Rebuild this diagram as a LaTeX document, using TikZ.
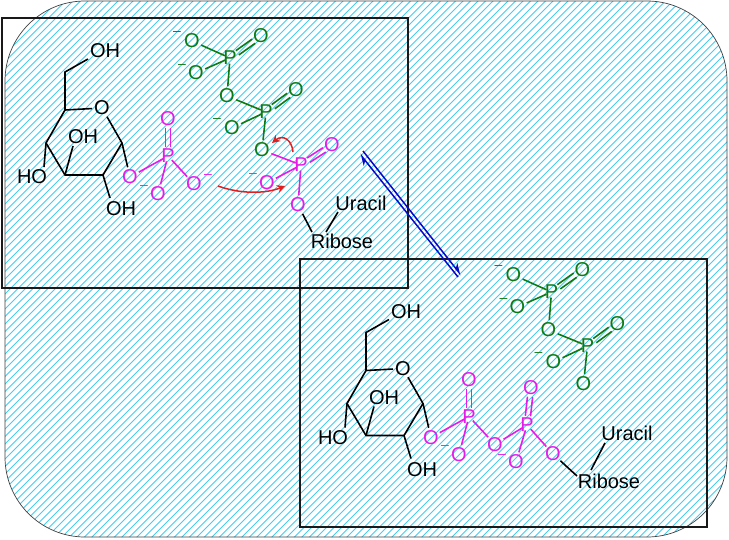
\documentclass[tikz,border=0pt]{standalone}
\usepackage{fontspec}
\setmainfont{Liberation Sans}
\usetikzlibrary{calc,arrows.meta}
\definecolor{hatchc}{HTML}{45CDF0}
\definecolor{grn}{HTML}{0E7A12}
\definecolor{mag}{HTML}{E81AE8}
\definecolor{arrred}{HTML}{E02020}
\definecolor{arrblue}{HTML}{0808C8}
\tikzset{
  atomtext/.style={font=\fontsize{20}{22}\selectfont, inner sep=0pt},
  oxy/.style={atomtext, circle, inner sep=-0.5pt},
  phos/.style={atomtext, circle, inner sep=-3pt},
  lbl/.style={atomtext, inner sep=1pt},
  minussign/.style={font=\fontsize{14}{15}\selectfont, inner sep=0pt},
  bond/.style={line width=1.6pt},
  framebox/.style={draw=black!90, line width=1.8pt},
  curly/.style={draw=arrred, line width=1.5pt, -{Stealth[length=8pt,width=8pt]}},
  eqm/.style={draw=arrblue, line width=1.5pt}
}
\newcommand{\dbl}[3]{%
  \draw[bond,#1,shorten <=9pt,shorten >=9pt] ($(#2)!2.6pt!90:(#3)$) -- ($(#3)!2.6pt!-90:(#2)$);
  \draw[bond,#1,shorten <=9pt,shorten >=9pt] ($(#2)!2.6pt!-90:(#3)$) -- ($(#3)!2.6pt!90:(#2)$);}
% glucose ring with its phosphate
\newcommand{\sugar}{%
  \coordinate (c6) at (65,72);
  \coordinate (c5) at (65,110);
  \coordinate (c1) at (122,143);
  \coordinate (c2) at (103,175);
  \coordinate (c3) at (65,175);
  \coordinate (c4) at (46,143);
  \node[oxy] (ro) at (102,108) {O};
  \node[lbl] (oh6) at (105,51) {OH};
  \node[lbl] (oh3) at (83,137) {OH};
  \node[lbl] (ho4) at (32,177) {HO};
  \node[lbl] (oh2) at (121,209) {OH};
  \coordinate (oh6a) at (88,59);
  \coordinate (oh3a) at (73,146);
  \coordinate (ho4a) at (44,167);
  \coordinate (oh2a) at (110,198);
  \draw[bond] (oh6a) -- (c6) -- (c5) -- (ro) -- (c1) -- (c2) -- (c3) -- (c4) -- (c5);
  \draw[bond] (c3) -- (oh3a);
  \draw[bond] (c4) -- (ho4a);
  \draw[bond] (c2) -- (oh2a);
  \node[oxy,mag] (lo) at (130,177) {O};
  \node[phos,mag] (pa) at (168,156) {P};
  \node[oxy,mag] (pat) at (168,119) {O};
  \node[oxy,mag] (pal) at (158,194) {O};
  \node[oxy,mag] (par) at (194,184) {O};
  \node[minussign,mag] (pam) at (144,187) {–};
  \draw[bond] (c1) -- (lo);
  \draw[bond,mag] (lo) -- (pa);
  \draw[bond,mag] (pa) -- (pal);
  \draw[bond,mag] (pa) -- (par);
  \dbl{mag}{pa}{pat}
}
% green diphosphate
\newcommand{\pyro}{%
  \node[oxy,grn] (g1) at (192,41) {O};
  \node[oxy,grn] (g2) at (261,36) {O};
  \node[oxy,grn] (g3) at (196,73) {O};
  \node[phos,grn] (gp1) at (230,58) {P};
  \node[oxy,grn] (g4) at (227,96) {O};
  \node[phos,grn] (gp2) at (266,112) {P};
  \node[oxy,grn] (g5) at (296,90) {O};
  \node[oxy,grn] (g6) at (232,128) {O};
  \node[oxy,grn] (g7) at (262,150) {O};
  \node[minussign,grn] (gm1) at (177,33) {–};
  \node[minussign,grn] (gm2) at (182,66) {–};
  \node[minussign,grn] (gm3) at (217,120) {–};
  \draw[bond,grn] (g1) -- (gp1);
  \draw[bond,grn] (g3) -- (gp1);
  \draw[bond,grn] (gp1) -- (g4);
  \draw[bond,grn] (g4) -- (gp2);
  \draw[bond,grn] (g6) -- (gp2);
  \draw[bond,grn] (gp2) -- (g7);
  \dbl{grn}{gp1}{g2}
  \dbl{grn}{gp2}{g5}
}
\begin{document}
\begin{tikzpicture}[x=1pt,y=-1pt]
\useasboundingbox (0,0) rectangle (729,539);
% hatched background
\begin{scope}
  \clip[rounded corners=80pt] (5,1) rectangle (727,537);
  \foreach \k in {-75,...,100} {
    \draw[hatchc, line width=1.0pt] ({\k*7.5},539) -- ({\k*7.5+539},0);
  }
\end{scope}
\draw[black!75, line width=0.7pt, rounded corners=80pt] (5,1) rectangle (727,537);
% frames
\node[framebox, minimum width=406pt, minimum height=270pt, inner sep=0pt] (boxa) at (205,153) {};
\node[framebox, minimum width=407pt, minimum height=268pt, inner sep=0pt] (boxb) at (503.5,393) {};
% upper state
\begin{scope}[name prefix=a-]
  \sugar
  \pyro
  \node[minussign,mag] (m1) at (208,176) {–};
  \node[phos,mag] (up) at (301,165) {P};
  \node[oxy,mag] (uo1) at (332,145) {O};
  \node[oxy,mag] (uo2) at (267,183) {O};
  \node[oxy,mag] (uo3) at (298,205) {O};
  \node[minussign,mag] (m2) at (253,175) {–};
  \node[lbl] (ura) at (361,203) {Uracil};
  \node[lbl] (rib) at (342,241) {Ribose};
  \draw[bond,mag] (up) -- (uo2);
  \draw[bond,mag] (up) -- (uo3);
  \draw[bond,mag] (up) -- (g7);
  \dbl{mag}{up}{uo1}
  \coordinate (rib1) at (312,232);
  \coordinate (rib2) at (326,232);
  \coordinate (ura1) at (338,212);
  \draw[bond] (uo3) -- (rib1);
  \draw[bond] (rib2) -- (ura1);
  \coordinate (ca1) at (218,186);
  \coordinate (ca2) at (285,186);
  \draw[curly] (ca1) .. controls (240,194) and (265,194) .. (ca2);
  \coordinate (cb1) at (293,152);
  \coordinate (cb2) at (272,143);
  \draw[curly] (cb1) .. controls (292,140) and (283,134) .. (cb2);
\end{scope}
% lower state
\begin{scope}[shift={(301,260.5)},name prefix=b-]
  \sugar
\end{scope}
\begin{scope}[shift={(321.5,234)},name prefix=c-]
  \pyro
\end{scope}
\begin{scope}[name prefix=d-]
  \node[phos,mag] (p2) at (527,425) {P};
  \node[oxy,mag] (t2) at (531,388) {O};
  \node[oxy,mag] (l2) at (516,462) {O};
  \node[oxy,mag] (r2) at (553,454) {O};
  \node[minussign,mag] (m3) at (502,456) {–};
  \node[lbl] (ura2) at (627,433) {Uracil};
  \node[lbl] (rib2) at (609,481) {Ribose};
  \coordinate (rib2a) at (577,476);
  \coordinate (rib2b) at (591,470);
  \coordinate (ura2a) at (605,443);
  \draw[bond,mag] (b-par) -- (p2);
  \draw[bond,mag] (p2) -- (l2);
  \draw[bond,mag] (p2) -- (r2);
  \dbl{mag}{p2}{t2}
  \draw[bond] (r2) -- (rib2a);
  \draw[bond] (rib2b) -- (ura2a);
\end{scope}
% equilibrium arrows
\coordinate (e1) at (360,154);
\coordinate (e2) at (458,277);
\coordinate (e3) at (363,151);
\coordinate (e4) at (461,275);
\draw[eqm, {Stealth[harpoon,length=10pt,width=9pt]}-] (e1) -- (e2);
\draw[eqm, -{Stealth[harpoon,length=10pt,width=9pt]}] (e3) -- (e4);
\end{tikzpicture}
\end{document}
